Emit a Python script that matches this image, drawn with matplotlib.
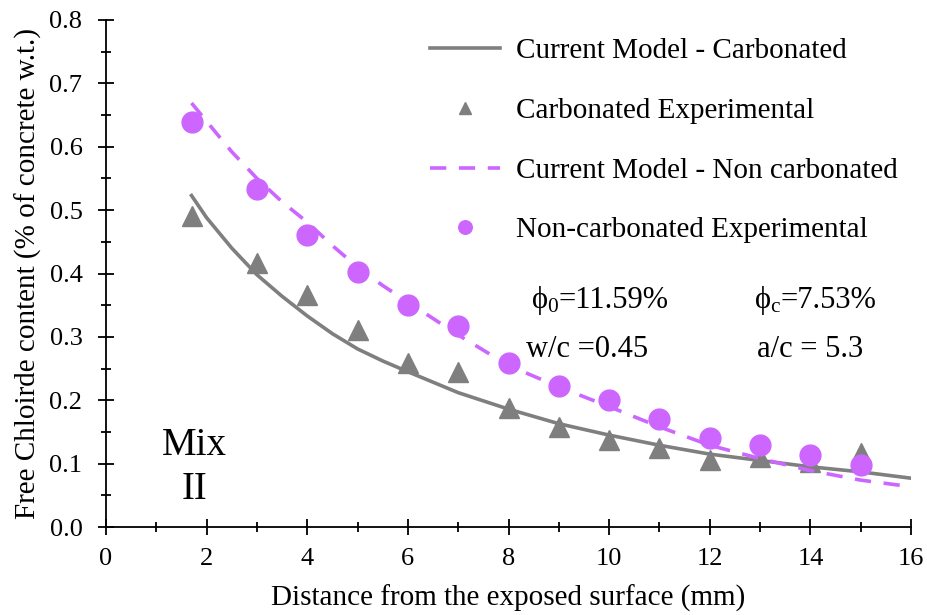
import matplotlib.pyplot as plt
from matplotlib.ticker import MultipleLocator
from matplotlib.transforms import offset_copy

plt.rcParams['font.family'] = ['Liberation Serif', 'DejaVu Serif']
plt.rcParams['mathtext.fontset'] = 'custom'
plt.rcParams['mathtext.rm'] = 'Liberation Serif'
plt.rcParams['mathtext.it'] = 'Liberation Serif:italic'

# experimental points
carb_x = [1.7, 3, 4, 5, 6, 7, 8, 9, 10, 11, 12, 13, 14, 15]
carb_y = [0.49, 0.416, 0.366, 0.311, 0.258, 0.245, 0.187, 0.158, 0.137, 0.124, 0.106, 0.110, 0.103, 0.116]
noncarb_x = [1.7, 3, 4, 5, 6, 7, 8, 9, 10, 11, 12, 13, 14, 15]
noncarb_y = [0.639, 0.533, 0.461, 0.402, 0.351, 0.317, 0.258, 0.222, 0.200, 0.170, 0.140, 0.130, 0.114, 0.098]

# model curves
model_x = [1.7, 2, 2.5, 3, 3.5, 4, 4.5, 5, 5.5, 6, 7, 8, 9, 10, 11, 12, 13, 14, 15, 16]
model_carb = [0.523, 0.488, 0.44, 0.398, 0.364, 0.333, 0.305, 0.281, 0.262, 0.245, 0.212,
              0.186, 0.163, 0.145, 0.129, 0.115, 0.105, 0.095, 0.087, 0.077]
model_noncarb = [0.669, 0.640, 0.592, 0.55, 0.513, 0.481, 0.444, 0.41, 0.381, 0.355, 0.303,
                 0.255, 0.221, 0.19, 0.158, 0.129, 0.108, 0.089, 0.074, 0.0635]

gray = '#7f7f7f'
violet = '#cc66ff'

fig = plt.figure(figsize=(9.27, 6.15), dpi=100)
ax = fig.add_axes([106 / 927, 1 - 527 / 615, 805 / 927, 507 / 615])

ax.plot(model_x, model_carb, color=gray, lw=2.6, label='Current Model - Carbonated')
ax.plot(carb_x, carb_y, ls='none', marker='^', ms=14, color=gray, label='Carbonated Experimental')
ax.plot(model_x, model_noncarb, color=violet, lw=2.6, ls=(0, (4.5, 3.5)),
        label='Current Model - Non carbonated')
ax.plot(noncarb_x, noncarb_y, ls='none', marker='o', ms=15, color=violet, label='Non-carbonated Experimental')

ax.set_xlim(0, 16)
ax.set_ylim(0, 0.8)
ax.xaxis.set_major_locator(MultipleLocator(2))
ax.xaxis.set_minor_locator(MultipleLocator(1))
ax.yaxis.set_major_locator(MultipleLocator(0.1))
ax.yaxis.set_minor_locator(MultipleLocator(0.05))
ax.yaxis.set_major_formatter(plt.FuncFormatter(lambda v, p: f'{v:.1f}'))
ax.tick_params(which='major', direction='inout', length=12, width=1.3, labelsize=19)
ax.tick_params(axis='y', which='major', pad=11)
ax.tick_params(axis='x', which='major', pad=9)
ax.tick_params(which='minor', direction='inout', length=7, width=1.3)
for s in ['top', 'right']:
    ax.spines[s].set_visible(False)
for s in ['left', 'bottom']:
    ax.spines[s].set_linewidth(1.3)

ax.set_xlabel('Distance from the exposed surface (mm)', fontsize=21, labelpad=11)
ax.set_ylabel('Free Chloirde content (% of concrete w.t.)', fontsize=21, labelpad=5)

leg = ax.legend(loc='upper left', bbox_to_anchor=((430 - 106) / 805, 1 - (38 - 20) / 507),
                frameon=False, fontsize=21, borderpad=0, borderaxespad=0,
                handlelength=2.4, labelspacing=1.14, handletextpad=0.55, markerscale=0.65)

fig.canvas.draw()


def sub_text(x, y, sub, rest):
    # symbol with subscript in mathtext, the rest as plain text on the same baseline
    t = ax.text(x, y, r'ϕ$_\mathrm{' + sub + '}$', fontsize=22, va='baseline')
    w = t.get_window_extent(fig.canvas.get_renderer()).width
    ax.text(x, y, rest, fontsize=22, va='baseline',
            transform=offset_copy(ax.transData, fig=fig, x=w, y=0, units='dots'))


sub_text(8.44, 0.3456, '0', '=11.59%')
sub_text(12.87, 0.3456, 'c', '=7.53%')
ax.text(8.34, 0.2683, 'w/c =0.45', fontsize=22, va='baseline')
ax.text(12.93, 0.2683, 'a/c = 5.3', fontsize=22, va='baseline')
ax.text(1.75, 0.094, 'Mix\nII', fontsize=28, ha='center', va='center', linespacing=1.24)

plt.savefig('out.png', dpi=100)
plt.close()
